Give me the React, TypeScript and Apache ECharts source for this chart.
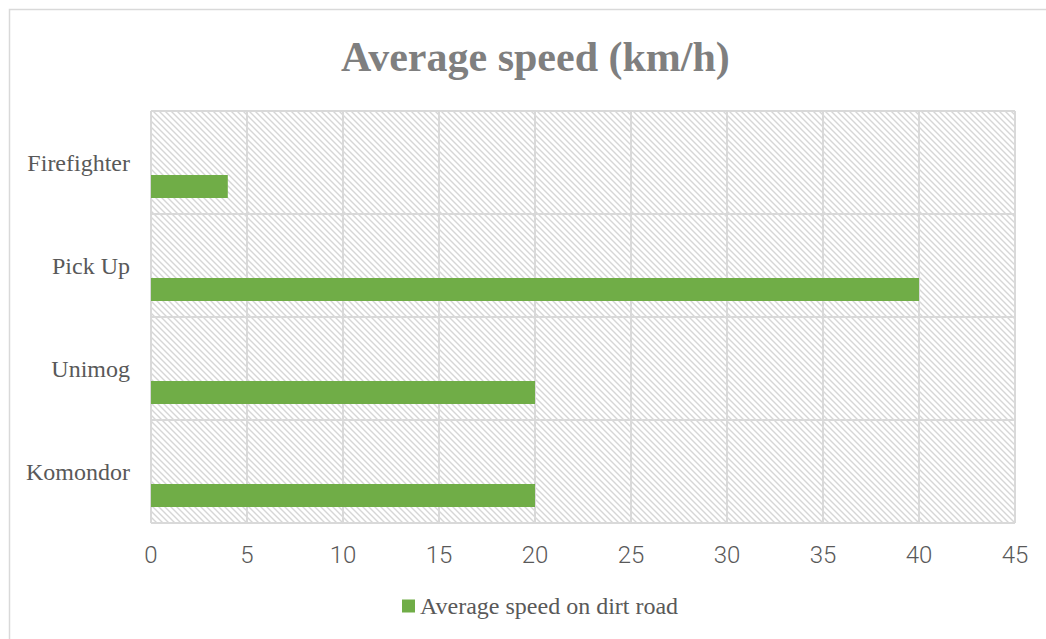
import React, { useEffect, useRef } from "react";
import * as echarts from "echarts";

const categories = ["Komondor", "Unimog", "Pick Up", "Firefighter"];
const dirtRoad = [20, 20, 40, 4];
const emptySeries = [null, null, null, null];
const seriesName = "Average speed on dirt road";
const titleText = "Average speed (km/h)";

function makeHatch(): string {
  const s = 6;
  const c = document.createElement("canvas");
  c.width = s;
  c.height = s;
  const ctx = c.getContext("2d");
  if (ctx) {
    ctx.fillStyle = "#ffffff";
    ctx.fillRect(0, 0, s, s);
    ctx.strokeStyle = "#d6d6d6";
    ctx.lineWidth = 1.4;
    ctx.beginPath();
    ctx.moveTo(-2, -2);
    ctx.lineTo(s + 2, s + 2);
    ctx.moveTo(-s - 2, -2);
    ctx.lineTo(2, s + 2);
    ctx.moveTo(-2, -s - 2);
    ctx.lineTo(s + 2, 2);
    ctx.stroke();
  }
  return c.toDataURL();
}

export default function App() {
  const ref = useRef<HTMLDivElement>(null);
  useEffect(() => {
    document.body.style.margin = "0";
    if (!ref.current) return;
    const chart = echarts.init(ref.current, null, { renderer: "svg" });
    const hatch = makeHatch();
    chart.setOption({
      animation: false,
      backgroundColor: "#ffffff",
      title: {
        text: titleText,
        left: 336,
        top: 31,
        textStyle: {
          fontFamily: "Liberation Serif",
          fontWeight: "bold",
          fontSize: 42,
          color: "#7f7f7f",
        },
      },
      graphic: [
        {
          type: "rect",
          shape: { x: 9.5, y: 9.5, width: 1100, height: 700 },
          style: { fill: "none", stroke: "#d9d9d9", lineWidth: 1.5 },
          silent: true,
          z: -1,
        },
      ],
      legend: {
        data: [seriesName],
        bottom: 16,
        left: 397,
        itemWidth: 13,
        itemHeight: 13,
        itemGap: 6,
        icon: "rect",
        textStyle: {
          fontFamily: "Liberation Serif",
          fontSize: 24,
          color: "#595959",
        },
      },
      grid: {
        left: 151,
        right: 31,
        top: 111,
        bottom: 116,
        show: true,
        borderWidth: 0,
        backgroundColor: { image: hatch, repeat: "repeat" },
      },
      xAxis: {
        type: "value",
        min: 0,
        max: 45,
        interval: 5,
        axisLine: { show: false },
        axisTick: { show: false },
        splitLine: { show: true, lineStyle: { color: "#d9d9d9", width: 2 } },
        axisLabel: {
          margin: 20,
          fontFamily: "Roboto",
          fontWeight: 300,
          fontSize: 24,
          color: "#595959",
        },
      },
      yAxis: {
        type: "category",
        data: categories,
        axisLine: { show: false },
        axisTick: { show: false },
        splitLine: { show: true, lineStyle: { color: "#d9d9d9", width: 2 } },
        axisLabel: {
          margin: 21,
          fontFamily: "Liberation Serif",
          fontSize: 24,
          color: "#595959",
        },
      },
      series: [
        {
          name: "hidden",
          type: "bar",
          data: emptySeries,
          barWidth: 23,
          barGap: "109%",
          itemStyle: { color: "#a5a5a5" },
        },
        {
          name: seriesName,
          type: "bar",
          data: dirtRoad,
          barWidth: 23,
          barGap: "109%",
          itemStyle: { color: "#70ad47" },
        },
      ],
    });
    return () => chart.dispose();
  }, []);
  return (
    <div
      ref={ref}
      style={{ position: "absolute", left: 0, top: 0, width: 1046, height: 639 }}
    />
  );
}
